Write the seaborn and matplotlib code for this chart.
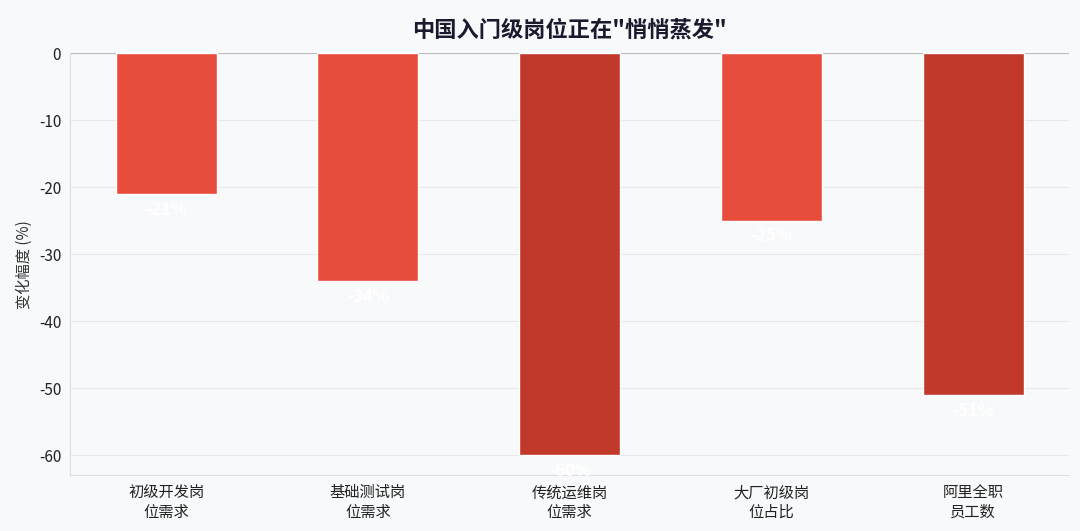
import matplotlib
matplotlib.use('Agg')
import matplotlib.pyplot as plt
import seaborn as sns
import pandas as pd

# Данные
categories = ['初级开发岗\n位需求', '基础测试岗\n位需求', '传统运维岗\n位需求', '大厂初级岗\n位占比', '阿里全职\n员工数']
changes = [-21, -34, -60, -25, -51]
labels = ['-21%', '-34%', '-60%', '-25%', '-51%']

sns.set_style('white')
plt.rcParams['font.family'] = ['Noto Sans CJK SC', 'DejaVu Sans']
plt.rcParams['axes.unicode_minus'] = False

df = pd.DataFrame({'cat': categories, 'val': changes})
colors = ['#C0392B' if v <= -50 else '#E74C3C' for v in changes]

fig, ax = plt.subplots(figsize=(10.8, 5.31), dpi=100)
fig.patch.set_facecolor('#F8F9FB')
ax.set_facecolor('#F8F9FB')

sns.barplot(data=df, x='cat', y='val', hue='cat', palette=colors, legend=False,
            width=0.5, saturation=1, ax=ax, zorder=2)

for i, (v, t) in enumerate(zip(changes, labels)):
    ax.text(i, v - 1, t, ha='center', va='top', color='white', fontsize=12, fontweight='bold', zorder=3)

ax.axhline(0, color='#BBBBBB', linewidth=0.8, zorder=1)
ax.set_ylim(-63, 0)
ax.set_xlim(-0.475, 4.475)
ax.yaxis.grid(True, color='#E8E8E8', linewidth=0.8, zorder=0)
ax.set_axisbelow(True)
for s in ['top', 'right']:
    ax.spines[s].set_visible(False)
for s in ['left', 'bottom']:
    ax.spines[s].set_color('#DDDDDD')
ax.set_xlabel('')
ax.set_ylabel('变化幅度 (%)', fontsize=11, color='#333333')
ax.tick_params(axis='both', labelsize=11, colors='#222222', length=3)
ax.set_title('中国入门级岗位正在"悄悄蒸发"', fontsize=16, fontweight='bold', color='#1A1A2E', pad=12)

plt.subplots_adjust(left=0.065, right=0.99, top=0.9, bottom=0.105)
plt.savefig('out.png', dpi=100, facecolor=fig.get_facecolor())
